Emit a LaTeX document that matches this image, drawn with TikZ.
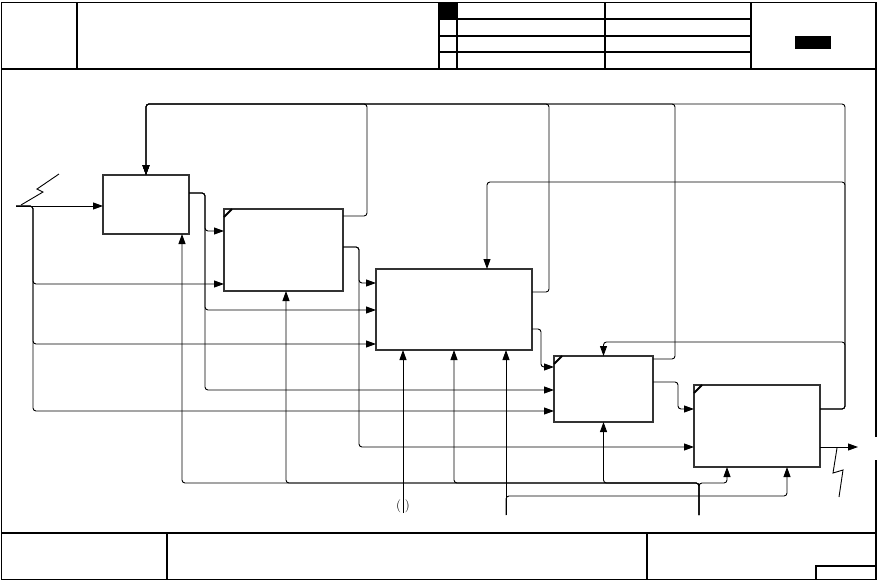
\documentclass[tikz,border=0pt]{standalone}
\usepackage{amsmath}
\usetikzlibrary{calc}
\usetikzlibrary{arrows.meta}

\begin{document}
\begin{tikzpicture}[x=1pt,y=-1pt]
\tikzstyle{func}=[draw=black!80,line width=2.5pt,inner sep=0pt,outer sep=0pt]
\tikzstyle{icom}=[line width=0.9pt,rounded corners=3pt,-{Triangle[length=10pt,width=7pt]}]
\tikzstyle{squig}=[line width=0.9pt]
\tikzstyle{frame}=[line width=1.4pt]
\useasboundingbox (0,0) rectangle (878,581);
\draw[frame] (876,437) -- (876,2.5) -- (1.5,2.5) -- (1.5,579.5) -- (876,579.5) -- (876,460);
\draw[frame] (1.5,69) -- (876,69);
\foreach \x in {77,439,457,605,751} \draw[frame] (\x,2.5) -- (\x,69);
\foreach \y in {19,36,52} \draw[frame] (439,\y) -- (751,\y);
\fill (439,2.5) rectangle (457,19);
\fill (795,36) rectangle (831,49);
\draw[frame] (1.5,533) -- (876,533);
\foreach \x in {167,647} \draw[frame] (\x,533) -- (\x,579.5);
\draw[frame] (816,579.5) -- (816,566) -- (876,566);
\node[func,minimum width=86pt,minimum height=59pt] (A1) at (146,204.5){};
\node[func,minimum width=119pt,minimum height=82pt] (A2) at (283.5,250){};
\node[func,minimum width=156pt,minimum height=81pt] (A3) at (454,309.5){};
\node[func,minimum width=99pt,minimum height=66pt] (A4) at (603.5,389){};
\node[func,minimum width=126pt,minimum height=82pt] (A5) at (757,426){};
\foreach \b in {A2,A4,A5} \draw[line width=1.8pt] ($(\b.north west)+(0,8)$) -- ($(\b.north west)+(8,0)$);
\coordinate (in) at (16,206);
\coordinate (fb) at (146,104);
\coordinate (out) at (858,447);
\coordinate (m1) at (699,515);
\coordinate (m2) at (506,515);
\coordinate (m3) at (403,513);
\draw[icom] (in) -- (in -| A1.west);
\draw[icom] (in) -- ++(17,0) |- ($(A2.south west)+(0,-7)$);
\draw[icom] (in) -- ++(17,0) |- ($(A3.south west)+(0,-6)$);
\draw[icom] (in) -- ++(17,0) |- ($(A4.south west)+(0,-11)$);
\draw[squig] (21,205) -- (43,192) -- (37,189) -- (59,174);
\draw[icom] ($(A1.north east)+(0,18)$) -- ++(16,0) |- ($(A2.north west)+(0,22)$);
\draw[icom] ($(A1.north east)+(0,18)$) -- ++(16,0) |- ($(A3.north west)+(0,41)$);
\draw[icom] ($(A1.north east)+(0,18)$) -- ++(16,0) |- ($(A4.north west)+(0,34)$);
\draw[icom] ($(A2.north east)+(0,7)$) -- ++(24,0) |- (fb) -- (A1.north);
\draw[icom] ($(A2.north east)+(0,38)$) -- ++(16,0) |- ($(A3.north west)+(0,14)$);
\draw[icom] ($(A2.north east)+(0,38)$) -- ++(16,0) |- ($(A5.north west)+(0,62)$);
\draw[icom] ($(A3.north east)+(0,23)$) -- ++(17,0) |- (fb) -- (A1.north);
\draw[icom] ($(A3.north east)+(0,60)$) -- ++(9,0) |- ($(A4.north west)+(0,11)$);
\draw[icom] ($(A4.north east)+(0,3)$) -- ++(22,0) |- (fb) -- (A1.north);
\draw[icom] ($(A4.north east)+(0,26)$) -- ++(25,0) |- ($(A5.north west)+(0,24)$);
\draw[icom] ($(A5.north east)+(0,24)$) -- ++(25,0) |- (fb) -- (A1.north);
\draw[icom] ($(A5.north east)+(0,24)$) -- ++(25,0) -- ++(0,-227) -| ($(A3.north west)+(111,0)$);
\draw[icom] ($(A5.north east)+(0,24)$) -- ++(25,0) -- ++(0,-67) -| (A4.north);
\draw[icom] ($(A5.north east)+(0,62)$) -- (out);
\draw[squig] (837,448) -- (833,473) -- (843,470) -- (839,497);
\draw[icom] (m1) -- ++(0,-32) -| ($(A1.south east)+(-7,0)$);
\draw[icom] (m1) -- ++(0,-32) -| ($(A2.south west)+(62,0)$);
\draw[icom] (m1) -- ++(0,-32) -| (A3.south);
\draw[icom] (m1) -- ++(0,-32) -| (A4.south);
\draw[icom] (m1) -- ++(0,-32) -| ($(A5.south west)+(33,0)$);
\draw[icom] (m2) -- ($(A3.south east)+(-26,0)$);
\draw[icom] (m2) -- ++(0,-19) -| ($(A5.south west)+(93,0)$);
\draw[icom] (m3) -- ($(A3.south west)+(27,0)$);
\node[font=\fontsize{13}{15}\selectfont] (tun) at (403,506) {(\hspace{4pt})};
\end{tikzpicture}
\end{document}
